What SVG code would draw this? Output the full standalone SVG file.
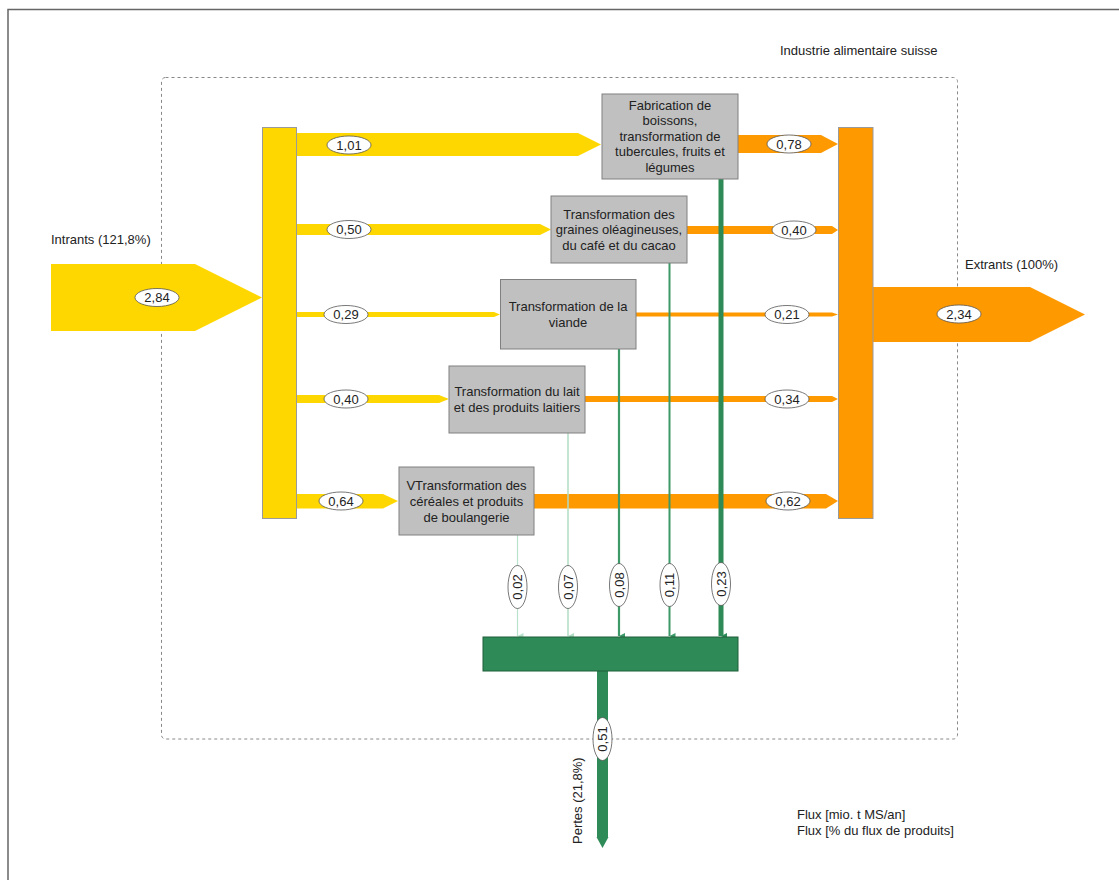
<svg xmlns="http://www.w3.org/2000/svg" width="1119" height="880" viewBox="0 0 1119 880">
<style>
text{font-family:"Liberation Sans",Arial,sans-serif;font-size:13px;fill:#222}
.c{text-anchor:middle}
.box{fill:#c0c0c0;stroke:#808080;stroke-width:1}
.yel{fill:#ffd700}
.org{fill:#ff9900}
.lbl{fill:#fff;stroke:#555;stroke-width:0.8}
</style>
<defs>
<marker id="ga" viewBox="0 0 6 6" refX="3" refY="6" markerWidth="6" markerHeight="6" markerUnits="userSpaceOnUse" orient="auto-start-reverse">
<path d="M0,0 L6,0 L3,6 Z" fill="context-stroke"/>
</marker>
</defs>
<rect width="1119" height="880" fill="#fff"/>
<path d="M8,880 V9.5 H1119" fill="none" stroke="#666" stroke-width="1.5"/>
<g id="system">
<rect x="161.5" y="77.5" width="796" height="661.5" rx="4" fill="none" stroke="#888" stroke-dasharray="3,3"/>
<text x="780" y="55">Industrie alimentaire suisse</text>
</g>
<g id="connectors">
<polygon class="yel" points="51,264 195,264 262,297.5 195,331 51,331"/>
<polygon class="yel" points="296,133 578,133 601,144.5 578,156 296,156"/>
<polygon class="yel" points="296,224 540,224 551,229.5 540,235 296,235"/>
<polygon class="yel" points="296,312 494,312 500,314.5 494,317 296,317"/>
<polygon class="yel" points="296,395 439,395 449,399 439,403 296,403"/>
<polygon class="yel" points="296,494 383,494 398,501 383,508.5 296,508.5"/>
<polygon class="org" points="738,135 821,135 838,144 821,153 738,153"/>
<polygon class="org" points="687,226 832,226 838,230 832,234 687,234"/>
<polygon class="org" points="636,312.5 832,312.5 838,314.5 832,316.5 636,316.5"/>
<polygon class="org" points="585,396 832,396 838,399 832,402 585,402"/>
<polygon class="org" points="534,494 826,494 838,501 826,508.5 534,508.5"/>
<polygon class="org" points="873,287 1030,287 1085,314.5 1030,342 873,342"/>
<line x1="517.5" y1="535" x2="517.5" y2="636" stroke="#b9e2cb" stroke-width="1.2" marker-end="url(#ga)"/>
<line x1="568" y1="433" x2="568" y2="636" stroke="#b0dcc3" stroke-width="1.5" marker-end="url(#ga)"/>
<line x1="619" y1="349" x2="619" y2="636" stroke="#3d9a68" stroke-width="2.2" marker-end="url(#ga)"/>
<line x1="669.5" y1="263" x2="669.5" y2="636" stroke="#3d9a68" stroke-width="2" marker-end="url(#ga)"/>
<line x1="721" y1="179" x2="721" y2="636" stroke="#2e8b57" stroke-width="5" marker-end="url(#ga)"/>
<rect x="597" y="671" width="11" height="166" fill="#2e8b57"/>
<polygon points="596.5,837 608.5,837 602.5,848" fill="#2e8b57"/>
<ellipse class="lbl" cx="157" cy="297.5" rx="22" ry="9"/><text class="c" x="157" y="302">2,84</text>
<ellipse class="lbl" cx="349" cy="145" rx="22" ry="9"/><text class="c" x="349" y="149.5">1,01</text>
<ellipse class="lbl" cx="349" cy="229.5" rx="22" ry="9"/><text class="c" x="349" y="234">0,50</text>
<ellipse class="lbl" cx="346" cy="314.5" rx="22" ry="9"/><text class="c" x="346" y="319">0,29</text>
<ellipse class="lbl" cx="346" cy="399" rx="22" ry="9"/><text class="c" x="346" y="403.5">0,40</text>
<ellipse class="lbl" cx="341" cy="501" rx="22" ry="9"/><text class="c" x="341" y="505.5">0,64</text>
<ellipse class="lbl" cx="789" cy="144" rx="22" ry="9"/><text class="c" x="789" y="148.5">0,78</text>
<ellipse class="lbl" cx="794" cy="230" rx="22" ry="9"/><text class="c" x="794" y="234.5">0,40</text>
<ellipse class="lbl" cx="787" cy="314.5" rx="22" ry="9"/><text class="c" x="787" y="319">0,21</text>
<ellipse class="lbl" cx="787" cy="399" rx="22" ry="9"/><text class="c" x="787" y="403.5">0,34</text>
<ellipse class="lbl" cx="788" cy="501" rx="22" ry="9"/><text class="c" x="788" y="505.5">0,62</text>
<ellipse class="lbl" cx="959" cy="314" rx="22" ry="9"/><text class="c" x="959" y="318.5">2,34</text>
<ellipse class="lbl" cx="517.5" cy="587" rx="9.5" ry="21.5"/><text class="c" transform="translate(517.5,587) rotate(-90)" y="4.5">0,02</text>
<ellipse class="lbl" cx="568" cy="587" rx="9.5" ry="21.5"/><text class="c" transform="translate(568,587) rotate(-90)" y="4.5">0,07</text>
<ellipse class="lbl" cx="619" cy="585" rx="9.5" ry="21.5"/><text class="c" transform="translate(619,585) rotate(-90)" y="4.5">0,08</text>
<ellipse class="lbl" cx="669.5" cy="585" rx="9.5" ry="21.5"/><text class="c" transform="translate(669.5,585) rotate(-90)" y="4.5">0,11</text>
<ellipse class="lbl" cx="721" cy="584" rx="9.5" ry="21.5"/><text class="c" transform="translate(721,584) rotate(-90)" y="4.5">0,23</text>
<ellipse class="lbl" cx="602.5" cy="739" rx="9.5" ry="21.5"/><text class="c" transform="translate(602.5,739) rotate(-90)" y="4.5">0,51</text>
<text x="51" y="244">Intrants (121,8%)</text>
<text x="965" y="269">Extrants (100%)</text>
<text transform="translate(582,844) rotate(-90)">Pertes (21,8%)</text>
</g>
<g id="input-split">
<rect x="262.5" y="127.5" width="34" height="391" fill="#ffd700" stroke="#9a9a9a" stroke-width="1"/>
</g>
<g id="output-merge">
<rect x="838.5" y="127.5" width="34.5" height="391" fill="#ff9900" stroke="#9a9a9a" stroke-width="1"/>
</g>
<g id="losses">
<rect x="483" y="637" width="255" height="34" fill="#2e8b57" stroke="#1f5e3b" stroke-width="1"/>
</g>
<g id="n1">
<rect class="box" x="602" y="94" width="136" height="85"/>
<text class="c" x="670" y="109.5">Fabrication de</text>
<text class="c" x="670" y="125">boissons,</text>
<text class="c" x="670" y="140.5">transformation de</text>
<text class="c" x="670" y="156">tubercules, fruits et</text>
<text class="c" x="670" y="171.5">légumes</text>
</g>
<g id="n2">
<rect class="box" x="551" y="196" width="136" height="67"/>
<text class="c" x="619" y="218.5">Transformation des</text>
<text class="c" x="619" y="234">graines oléagineuses,</text>
<text class="c" x="619" y="249.5">du café et du cacao</text>
</g>
<g id="n3">
<rect class="box" x="500.5" y="279.5" width="135.5" height="69.5"/>
<text class="c" x="568" y="310.5">Transformation de la</text>
<text class="c" x="568" y="326.5">viande</text>
</g>
<g id="n4">
<rect class="box" x="449" y="366" width="136" height="67"/>
<text class="c" x="517" y="395.5">Transformation du lait</text>
<text class="c" x="517" y="411.5">et des produits laitiers</text>
</g>
<g id="n5">
<rect class="box" x="399" y="467" width="135" height="68"/>
<text class="c" x="466.5" y="489.5">VTransformation des</text>
<text class="c" x="466.5" y="505.5">céréales et produits</text>
<text class="c" x="466.5" y="521.5">de boulangerie</text>
</g>
<g id="legend">
<text x="797" y="819">Flux [mio. t MS/an]</text>
<text x="797" y="835">Flux [% du flux de produits]</text>
</g>
</svg>
